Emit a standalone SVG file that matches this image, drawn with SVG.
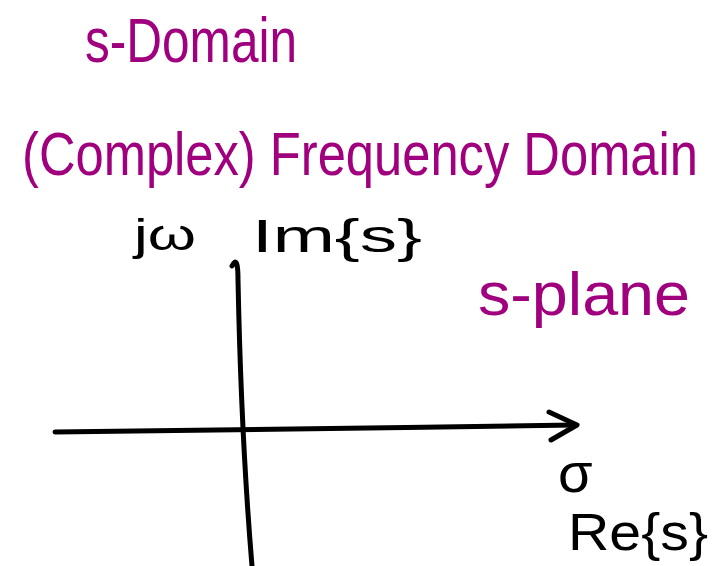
<svg xmlns="http://www.w3.org/2000/svg" width="716" height="566" viewBox="0 0 716 566">
<style>
.m{fill:#a0007e;font-family:"Liberation Sans","DejaVu Sans",sans-serif}
.k{fill:#000;font-family:"Liberation Sans","DejaVu Sans",sans-serif}
.ax{stroke:#000;stroke-width:5;fill:none;stroke-linecap:round;stroke-linejoin:round}
</style>
<rect width="716" height="566" fill="#fff"/>
<g id="title">
<text class="m" transform="translate(85,62) scale(1,1.25)" font-size="50" textLength="212" lengthAdjust="spacingAndGlyphs">s-Domain</text>
<text class="m" transform="translate(22,175) scale(1,1.22)" font-size="50" textLength="676" lengthAdjust="spacingAndGlyphs">(Complex) Frequency Domain</text>
<text class="m" x="478" y="315" font-size="62" textLength="212" lengthAdjust="spacingAndGlyphs">s-plane</text>
</g>
<g id="axes">
<path class="ax" d="M55,432 C200,430 400,428 575,425"/>
<path class="ax" d="M549,412 L577,425 L551,440"/>
<path class="ax" d="M232,266 C236,258 238,262 238,280 C240,380 244,470 252,566"/>
</g>
<g id="labels">
<text class="k" x="134" y="250" font-size="44" textLength="62" lengthAdjust="spacingAndGlyphs">jω</text>
<text class="k" x="252" y="252" font-size="46" textLength="170" lengthAdjust="spacingAndGlyphs">Im{s}</text>
<text class="k" x="558" y="492" font-size="56">σ</text>
<text class="k" x="568" y="550" font-size="52" textLength="140" lengthAdjust="spacingAndGlyphs">Re{s}</text>
</g>
</svg>
